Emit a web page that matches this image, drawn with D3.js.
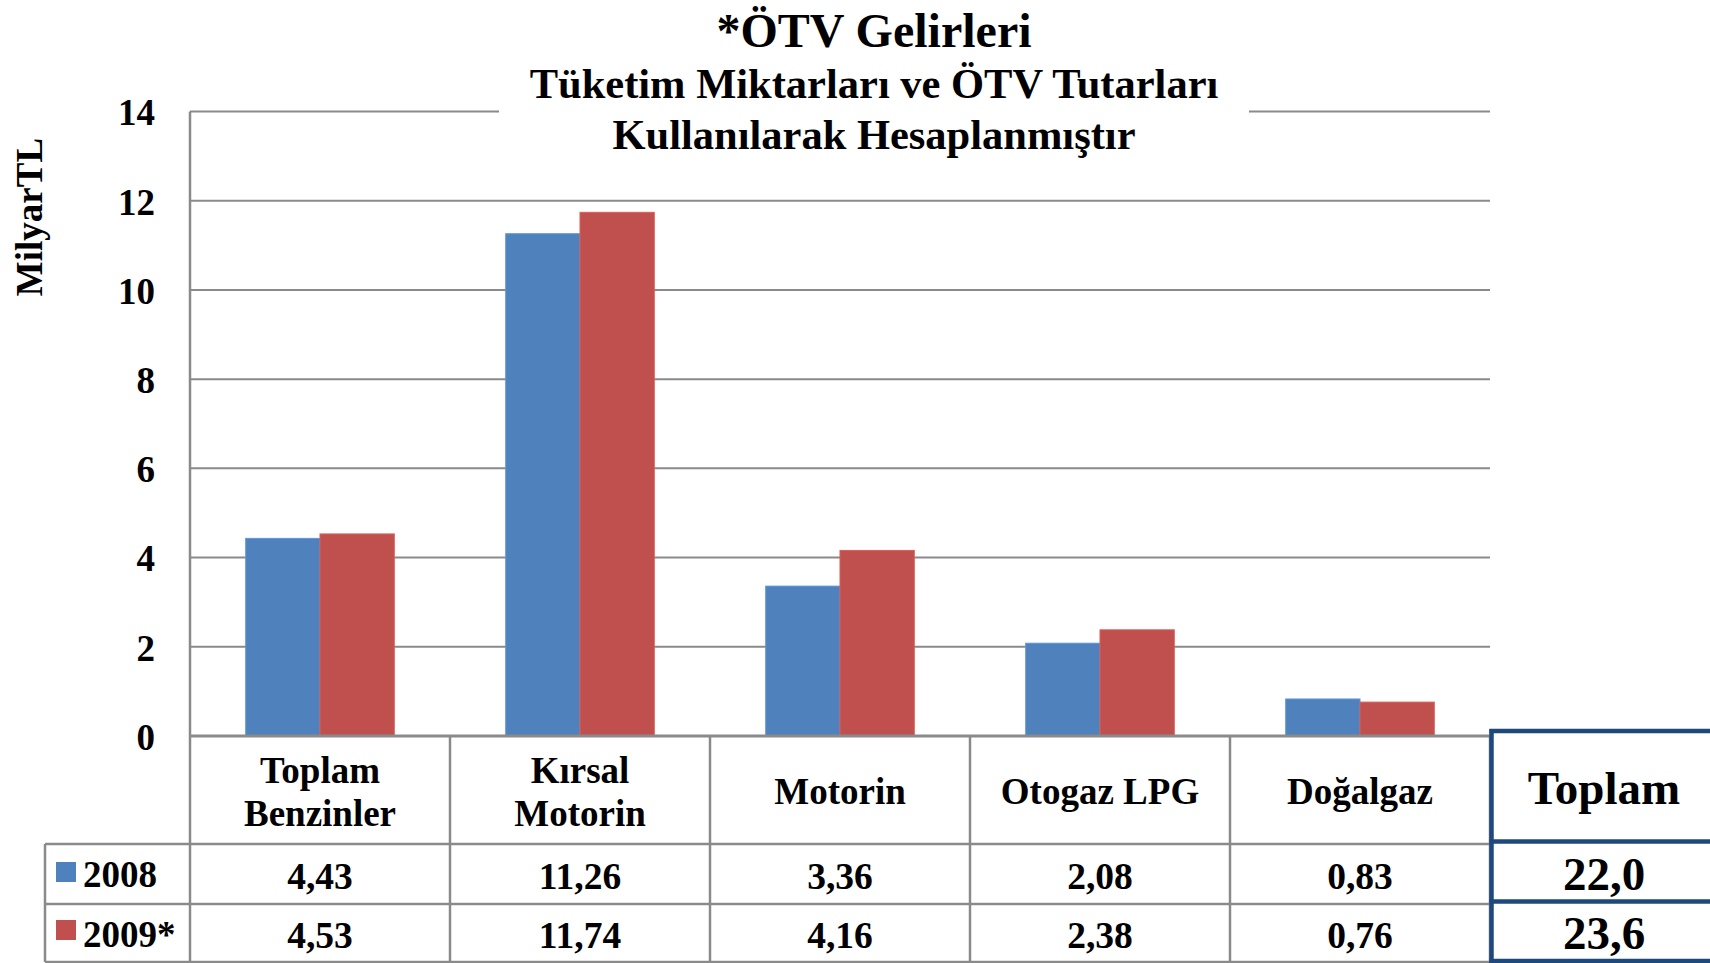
<!DOCTYPE html>
<html>
<head>
<meta charset="utf-8">
<script src="https://cdn.jsdelivr.net/npm/d3@7"></script>
<style>
  html, body { margin: 0; padding: 0; background: #fff; overflow: hidden; }
  svg { display: block; }
  text { font-family: "Liberation Serif", "Times New Roman", serif; font-weight: bold; fill: #000; }
</style>
</head>
<body>
<svg id="chart" width="1710" height="963"></svg>
<script>
// ---- data ----
const categories = [["Toplam", "Benzinler"], ["Kırsal", "Motorin"], ["Motorin"], ["Otogaz LPG"], ["Doğalgaz"]];
const seriesNames = ["2008", "2009*"];
const values2008 = [4.43, 11.26, 3.36, 2.08, 0.83];
const values2009 = [4.53, 11.74, 4.16, 2.38, 0.76];
const totals = [22.0, 23.6];
const yTicks = [0, 2, 4, 6, 8, 10, 12, 14];
const colors = ["#4f81bd", "#c0504d"];
const titleText = "*ÖTV Gelirleri";
const subtitleLines = ["Tüketim Miktarları ve ÖTV Tutarları", "Kullanılarak Hesaplanmıştır"];
const yAxisTitle = "MilyarTL";
const totalHeader = "Toplam";

// ---- layout ----
const svg = d3.select("#chart");
const plotL = 190, plotR = 1490, plotT = 111.5, plotB = 736;
const tableL = 45, headerB = 844, row1B = 904, row2B = 962;
const gray = "#8a8a8a";
const navy = "#1f497d";

const catKeys = categories.map((c, i) => "c" + i);
const x0 = d3.scaleBand().domain(catKeys).range([plotL, plotR]).padding(0);
const groupW = x0.bandwidth() * 2 / 3.5;
const x1 = d3.scaleBand().domain(seriesNames).range([0, groupW]).padding(0);
const y = d3.scaleLinear().domain([0, 14]).range([plotB, plotT]);

const fmt = (v, d) => v.toFixed(d).replace(".", ",");

// gridlines
const grid = svg.append("g");
grid.selectAll("line").data(yTicks.filter(t => t > 0)).join("line")
  .attr("x1", plotL).attr("x2", plotR)
  .attr("y1", d => y(d)).attr("y2", d => y(d))
  .attr("stroke", gray).attr("stroke-width", 2);

// y axis tick labels
const yAxis = d3.axisLeft(y).tickValues(yTicks).tickSize(0).tickPadding(35).tickFormat(d3.format("d"));
const yg = svg.append("g").attr("transform", `translate(${plotL},0)`).call(yAxis);
yg.select(".domain").remove();
yg.selectAll("text")
  .attr("font-size", 37)
  .attr("font-family", "Liberation Serif, Times New Roman, serif")
  .attr("font-weight", "bold")
  .attr("dy", "0.36em")
  .attr("fill", "#000");

// y axis title
svg.append("text")
  .attr("transform", `translate(42,217) rotate(-90)`)
  .attr("text-anchor", "middle")
  .attr("font-size", 37)
  .text(yAxisTitle);

// bars
const seriesData = [values2008, values2009];
seriesData.forEach((vals, si) => {
  svg.append("g").selectAll("rect").data(vals).join("rect")
    .attr("x", (d, i) => x0(catKeys[i]) + (x0.bandwidth() - groupW) / 2 + x1(seriesNames[si]))
    .attr("width", x1.bandwidth())
    .attr("y", d => y(d))
    .attr("height", d => y(0) - y(d))
    .attr("fill", colors[si])
    .attr("stroke", d3.color(colors[si]).brighter(0.4))
    .attr("stroke-width", 1);
});

// left axis line (continues into table) and x axis line
svg.append("line").attr("x1", plotL).attr("x2", plotL).attr("y1", plotT).attr("y2", row2B)
  .attr("stroke", gray).attr("stroke-width", 2.5);
svg.append("line").attr("x1", plotL).attr("x2", plotR).attr("y1", plotB).attr("y2", plotB)
  .attr("stroke", gray).attr("stroke-width", 3);

// title block
svg.append("rect").attr("x", 499).attr("y", 100).attr("width", 750).attr("height", 24).attr("fill", "#fff");
svg.append("text").attr("x", 874).attr("y", 47).attr("text-anchor", "middle").attr("font-size", 48).text(titleText);
subtitleLines.forEach((s, i) => {
  svg.append("text").attr("x", 874).attr("y", 98 + i * 51).attr("text-anchor", "middle").attr("font-size", 42.5).text(s);
});

// data table grid
const tbl = svg.append("g").attr("stroke", gray).attr("stroke-width", 2.5);
[headerB, row1B, row2B].forEach(yy => {
  tbl.append("line").attr("x1", tableL).attr("x2", plotR).attr("y1", yy).attr("y2", yy);
});
tbl.append("line").attr("x1", tableL).attr("x2", tableL).attr("y1", headerB).attr("y2", row2B);
catKeys.forEach((k, i) => {
  if (i > 0) tbl.append("line").attr("x1", x0(k)).attr("x2", x0(k)).attr("y1", plotB).attr("y2", row2B);
});
tbl.append("line").attr("x1", plotR).attr("x2", plotR).attr("y1", plotB).attr("y2", row2B);

// category headers
categories.forEach((lines, i) => {
  const cx = x0(catKeys[i]) + x0.bandwidth() / 2;
  const t = svg.append("text").attr("text-anchor", "middle").attr("font-size", 37);
  if (lines.length === 1) {
    t.append("tspan").attr("x", cx).attr("y", 804).text(lines[0]);
  } else {
    lines.forEach((l, j) => t.append("tspan").attr("x", cx).attr("y", 783 + j * 43).text(l));
  }
});

// values
const rowBase = [889, 948];
seriesData.forEach((vals, si) => {
  svg.append("g").selectAll("text").data(vals).join("text")
    .attr("x", (d, i) => x0(catKeys[i]) + x0.bandwidth() / 2)
    .attr("y", rowBase[si])
    .attr("text-anchor", "middle").attr("font-size", 37.5)
    .text(d => fmt(d, 2));
  // legend
  svg.append("rect").attr("x", 56).attr("y", [862, 920][si]).attr("width", 20).attr("height", 20).attr("fill", colors[si]);
  svg.append("text").attr("x", 83).attr("y", [886.5, 946.5][si]).attr("font-size", 37).text(seriesNames[si]);
});

// Toplam box
const bx = 1491.5;
const box = svg.append("g").attr("stroke", navy).attr("stroke-width", 4.5).attr("fill", "none");
box.append("line").attr("x1", bx).attr("x2", bx).attr("y1", 729).attr("y2", 963);
[731, 841.5, 901.5, 961].forEach(yy => box.append("line").attr("x1", bx - 2).attr("x2", 1712).attr("y1", yy).attr("y2", yy));
svg.append("text").attr("x", 1604).attr("y", 804).attr("text-anchor", "middle").attr("font-size", 47).text(totalHeader);
totals.forEach((t, i) => {
  svg.append("text").attr("x", 1604).attr("y", [890, 949][i]).attr("text-anchor", "middle").attr("font-size", 47).text(fmt(t, 1));
});
</script>
</body>
</html>
